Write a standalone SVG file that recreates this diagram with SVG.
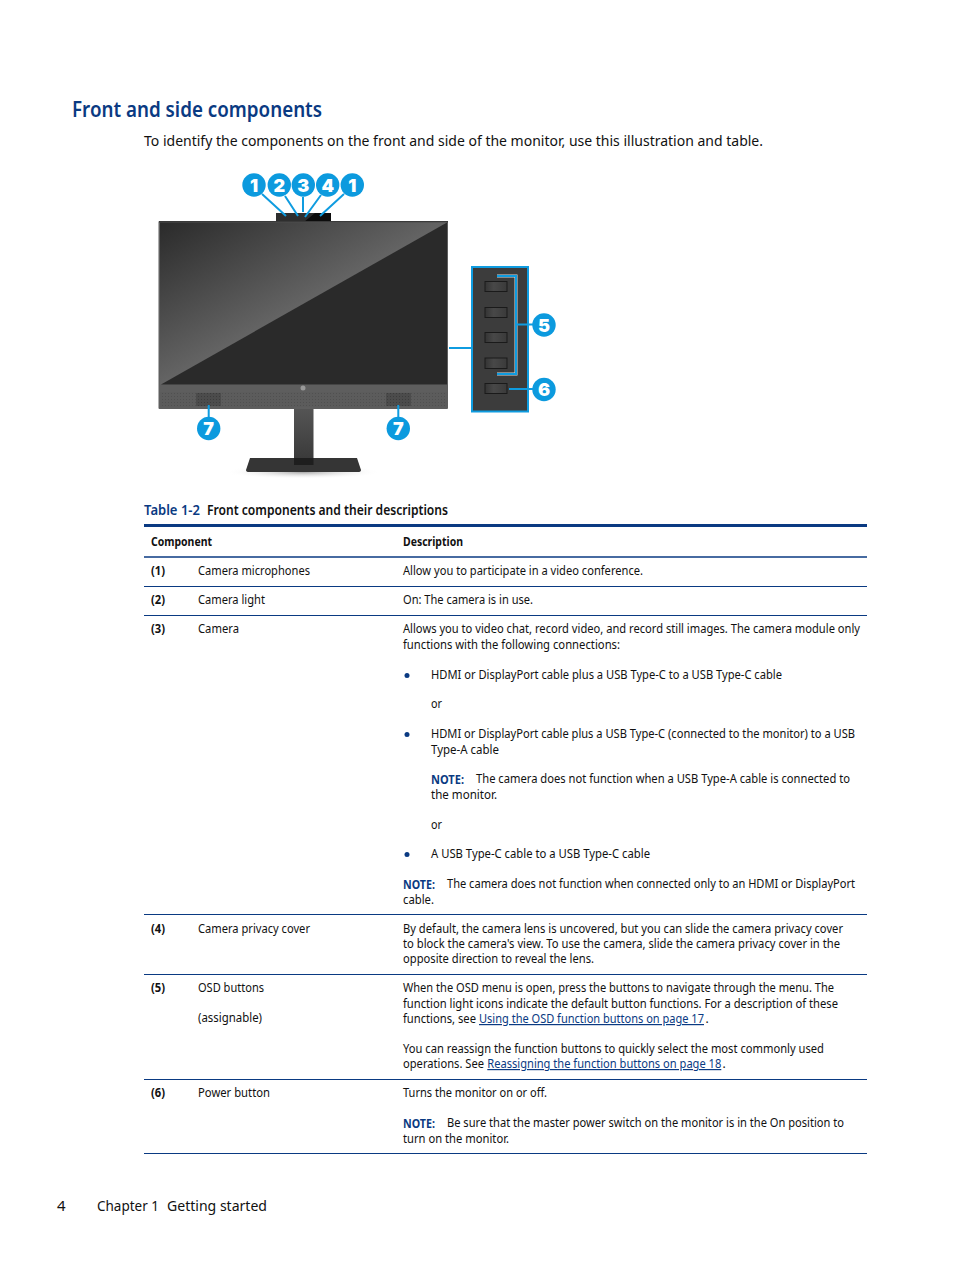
<svg xmlns="http://www.w3.org/2000/svg" width="954" height="1270" viewBox="0 0 954 1270">
<style>
text{font-family:"Noto Sans","Open Sans",sans-serif;font-size:12px;fill:#111;}
.b{font-weight:700}
.lk{fill:#0a3a82;text-decoration:underline}
.nb{fill:#0a3a82;font-weight:700}
.r{stroke:#0a3a82;stroke-width:1;fill:none}
.c{fill:#0c9ade}
.n{fill:#fff;font-size:18px;font-weight:900;text-anchor:middle;font-family:"Inter","Liberation Sans",sans-serif}
.cn{stroke:#0f9ce0;stroke-width:2;fill:none}
.hl{stroke:#d8d8d8;stroke-width:3;fill:none}
.btn{fill:url(#bt);stroke:#1a1a1a;stroke-width:1}
</style>
<defs>
<linearGradient id="sc" gradientUnits="userSpaceOnUse" x1="159" y1="222" x2="229" y2="346"><stop offset="0" stop-color="#2a2a2a"/><stop offset="1" stop-color="#646464"/></linearGradient>
<linearGradient id="bt" x1="0" y1="0" x2="1" y2="0"><stop offset="0" stop-color="#343434"/><stop offset=".4" stop-color="#484848"/><stop offset="1" stop-color="#3a3a3a"/></linearGradient>
<linearGradient id="st" x1="0" y1="0" x2="0" y2="1"><stop offset="0" stop-color="#555"/><stop offset="1" stop-color="#3a3a3a"/></linearGradient>
<radialGradient id="sh"><stop offset="0" stop-color="#888" stop-opacity=".75"/><stop offset="1" stop-color="#fff" stop-opacity="0"/></radialGradient>
<pattern id="sp" width="3" height="3" patternUnits="userSpaceOnUse"><rect width="3" height="3" fill="#5c5c5c"/><rect width="1" height="1" fill="#505050"/></pattern>
<pattern id="sd" width="3" height="3" patternUnits="userSpaceOnUse"><rect width="3" height="3" fill="#4c4c4c"/><rect width="1" height="1" fill="#3c3c3c"/></pattern>
</defs>
<text x="72" y="117" textLength="250" lengthAdjust="spacingAndGlyphs" style="font-size:22px;font-weight:600;fill:#0a3a82">Front and side components</text>
<text x="144" y="146" textLength="619" lengthAdjust="spacingAndGlyphs" style="font-size:15px">To identify the components on the front and side of the monitor, use this illustration and table.</text>
<g id="monitor">
<ellipse cx="303" cy="472" rx="78" ry="7" fill="url(#sh)"/>
<rect x="294" y="408" width="19.500" height="52" fill="url(#st)"/>
<path d="M250 458H357L361 470Q361 472 358 472H249Q246 472 246 470Z" fill="#353535"/>
<rect x="294" y="458" width="19.500" height="7" fill="#1e1e1e"/>
<rect x="276" y="213" width="55" height="9" fill="#2e2e2e"/>
<path d="M304 222L315 213H331V222Z" fill="#0c0c0c"/>
<rect x="158.500" y="221" width="289.500" height="188" rx="1" fill="#5e5e5e"/>
<rect x="159" y="221" width="289" height="1.500" fill="#3a3a3a"/>
<rect x="160" y="222.500" width="287" height="162" fill="url(#sc)"/>
<path d="M447 222.500V384.500H161Z" fill="#2a2a2a"/>
<rect x="160" y="392" width="287" height="15" fill="url(#sp)"/>
<rect x="196" y="393" width="25" height="13" fill="url(#sd)"/>
<rect x="386" y="393" width="25" height="13" fill="url(#sd)"/>
<circle cx="303" cy="388" r="2.500" fill="#999"/>
</g>
<g id="side-panel">
<rect x="472" y="267" width="56" height="144.500" fill="#3c3c3c" stroke="#0f9ce0" stroke-width="2"/>
<rect class="btn" x="485" y="281.500" width="22" height="10"/>
<rect class="btn" x="485" y="307.500" width="22" height="10"/>
<rect class="btn" x="485" y="332.500" width="22" height="10"/>
<rect class="btn" x="485" y="358" width="22" height="10.500"/>
<rect class="btn" x="485" y="383.500" width="22" height="10"/>
</g>
<g id="connectors">
<path class="cn" d="M262 194L286 216M285 196L298 216M303 197V212M321 195L305 217M344 194L320 216"/>
<path class="hl" d="M497 276H516V374H497"/>
<path class="cn" d="M449 348H472M497 276H516V374H497M516 324.500H535M509 389H535M208.700 405V419M398.300 405V419"/>
</g>
<g id="callout-1a"><circle class="c" cx="254" cy="185" r="11.700"/><text class="n" x="254" y="191.500">1</text></g>
<g id="callout-2"><circle class="c" cx="279.300" cy="185" r="11.700"/><text class="n" x="279.300" y="191.500">2</text></g>
<g id="callout-3"><circle class="c" cx="303.300" cy="185" r="11.700"/><text class="n" x="303.300" y="191.500">3</text></g>
<g id="callout-4"><circle class="c" cx="327.700" cy="185" r="11.700"/><text class="n" x="327.700" y="191.500">4</text></g>
<g id="callout-1b"><circle class="c" cx="352.300" cy="185" r="11.700"/><text class="n" x="352.300" y="191.500">1</text></g>
<g id="callout-5"><circle class="c" cx="544" cy="325" r="11.700"/><text class="n" x="544" y="331.500">5</text></g>
<g id="callout-6"><circle class="c" cx="544" cy="389.500" r="11.700"/><text class="n" x="544" y="396">6</text></g>
<g id="callout-7a"><circle class="c" cx="208.700" cy="428.500" r="11.700"/><text class="n" x="208.700" y="435">7</text></g>
<g id="callout-7b"><circle class="c" cx="398.300" cy="428.500" r="11.700"/><text class="n" x="398.300" y="435">7</text></g>
<g id="table">
<text x="144" y="515" textLength="56" lengthAdjust="spacingAndGlyphs" style="font-size:14px;font-weight:600;fill:#0a3a82">Table 1-2</text>
<text x="207" y="515" textLength="241" lengthAdjust="spacingAndGlyphs" style="font-size:14px;font-weight:600">Front components and their descriptions</text>
<path d="M144 525.500H867" stroke="#0a3a82" stroke-width="3"/>
<path d="M144 557H867" stroke="#0a3a82" stroke-width="1.500"/>
<path class="r" d="M144 586.500H867M144 615.500H867M144 914.500H867M144 974.500H867M144 1079.500H867M144 1153.500H867"/>
<text class="b" x="151" y="546" textLength="61" lengthAdjust="spacingAndGlyphs">Component</text>
<text class="b" x="403" y="546" textLength="60" lengthAdjust="spacingAndGlyphs">Description</text>
<text class="b" x="151" y="575" textLength="14" lengthAdjust="spacingAndGlyphs">(1)</text>
<text x="198" y="575" textLength="112" lengthAdjust="spacingAndGlyphs">Camera microphones</text>
<text x="403" y="575" textLength="240" lengthAdjust="spacingAndGlyphs">Allow you to participate in a video conference.</text>
<text class="b" x="151" y="604" textLength="14" lengthAdjust="spacingAndGlyphs">(2)</text>
<text x="198" y="604" textLength="67" lengthAdjust="spacingAndGlyphs">Camera light</text>
<text x="403" y="604" textLength="130" lengthAdjust="spacingAndGlyphs">On: The camera is in use.</text>
<text class="b" x="151" y="633" textLength="14" lengthAdjust="spacingAndGlyphs">(3)</text>
<text x="198" y="633" textLength="41" lengthAdjust="spacingAndGlyphs">Camera</text>
<text x="403" y="633" textLength="457" lengthAdjust="spacingAndGlyphs">Allows you to video chat, record video, and record still images. The camera module only</text>
<text x="403" y="649" textLength="217" lengthAdjust="spacingAndGlyphs">functions with the following connections:</text>
<circle cx="407" cy="675.500" r="2.500" fill="#0a3a82"/>
<text x="431" y="679" textLength="351" lengthAdjust="spacingAndGlyphs">HDMI or DisplayPort cable plus a USB Type-C to a USB Type-C cable</text>
<text x="431" y="708" textLength="11" lengthAdjust="spacingAndGlyphs">or</text>
<circle cx="407" cy="734.500" r="2.500" fill="#0a3a82"/>
<text x="431" y="738" textLength="424" lengthAdjust="spacingAndGlyphs">HDMI or DisplayPort cable plus a USB Type-C (connected to the monitor) to a USB</text>
<text x="431" y="754" textLength="68" lengthAdjust="spacingAndGlyphs">Type-A cable</text>
<text class="nb" x="431" y="784" textLength="33" lengthAdjust="spacingAndGlyphs">NOTE:</text>
<text x="476" y="783" textLength="374" lengthAdjust="spacingAndGlyphs">The camera does not function when a USB Type-A cable is connected to</text>
<text x="431" y="799" textLength="66" lengthAdjust="spacingAndGlyphs">the monitor.</text>
<text x="431" y="829" textLength="11" lengthAdjust="spacingAndGlyphs">or</text>
<circle cx="407" cy="854.500" r="2.500" fill="#0a3a82"/>
<text x="431" y="858" textLength="219" lengthAdjust="spacingAndGlyphs">A USB Type-C cable to a USB Type-C cable</text>
<text class="nb" x="403" y="889" textLength="32" lengthAdjust="spacingAndGlyphs">NOTE:</text>
<text x="447" y="888" textLength="408" lengthAdjust="spacingAndGlyphs">The camera does not function when connected only to an HDMI or DisplayPort</text>
<text x="403" y="904" textLength="31" lengthAdjust="spacingAndGlyphs">cable.</text>
<text class="b" x="151" y="933" textLength="14" lengthAdjust="spacingAndGlyphs">(4)</text>
<text x="198" y="933" textLength="112" lengthAdjust="spacingAndGlyphs">Camera privacy cover</text>
<text x="403" y="933" textLength="440" lengthAdjust="spacingAndGlyphs">By default, the camera lens is uncovered, but you can slide the camera privacy cover</text>
<text x="403" y="948" textLength="437" lengthAdjust="spacingAndGlyphs">to block the camera's view. To use the camera, slide the camera privacy cover in the</text>
<text x="403" y="963" textLength="191" lengthAdjust="spacingAndGlyphs">opposite direction to reveal the lens.</text>
<text class="b" x="151" y="992" textLength="14" lengthAdjust="spacingAndGlyphs">(5)</text>
<text x="198" y="992" textLength="66" lengthAdjust="spacingAndGlyphs">OSD buttons</text>
<text x="198" y="1022" textLength="64" lengthAdjust="spacingAndGlyphs">(assignable)</text>
<text x="403" y="992" textLength="431" lengthAdjust="spacingAndGlyphs">When the OSD menu is open, press the buttons to navigate through the menu. The</text>
<text x="403" y="1008" textLength="435" lengthAdjust="spacingAndGlyphs">function light icons indicate the default button functions. For a description of these</text>
<text x="403" y="1023" textLength="73" lengthAdjust="spacingAndGlyphs">functions, see</text>
<text class="lk" x="479" y="1023" textLength="225" lengthAdjust="spacingAndGlyphs">Using the OSD function buttons on page 17</text>
<text x="705.500" y="1023">.</text>
<text x="403" y="1053" textLength="421" lengthAdjust="spacingAndGlyphs">You can reassign the function buttons to quickly select the most commonly used</text>
<text x="403" y="1068" textLength="81" lengthAdjust="spacingAndGlyphs">operations. See</text>
<text class="lk" x="487.300" y="1068" textLength="234" lengthAdjust="spacingAndGlyphs">Reassigning the function buttons on page 18</text>
<text x="722.500" y="1068">.</text>
<text class="b" x="151" y="1097" textLength="14" lengthAdjust="spacingAndGlyphs">(6)</text>
<text x="198" y="1097" textLength="72" lengthAdjust="spacingAndGlyphs">Power button</text>
<text x="403" y="1097" textLength="144" lengthAdjust="spacingAndGlyphs">Turns the monitor on or off.</text>
<text class="nb" x="403" y="1128" textLength="32" lengthAdjust="spacingAndGlyphs">NOTE:</text>
<text x="447" y="1127" textLength="397" lengthAdjust="spacingAndGlyphs">Be sure that the master power switch on the monitor is in the On position to</text>
<text x="403" y="1143" textLength="106" lengthAdjust="spacingAndGlyphs">turn on the monitor.</text>
</g>
<g id="footer">
<text x="57" y="1211" style="font-size:15px">4</text>
<text x="97" y="1211" textLength="62" lengthAdjust="spacingAndGlyphs" style="font-size:15px">Chapter 1</text>
<text x="167" y="1211" textLength="100" lengthAdjust="spacingAndGlyphs" style="font-size:15px">Getting started</text>
</g>
</svg>
